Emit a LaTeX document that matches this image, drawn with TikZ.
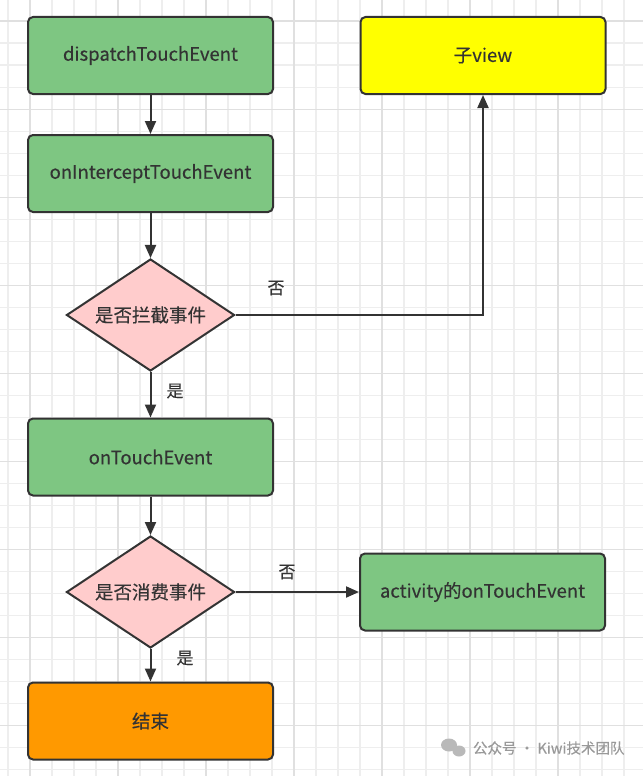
\documentclass[tikz,border=0pt]{standalone}
\usepackage{fontspec}
\setmainfont{Noto Sans CJK SC}[FakeBold=0.3]
\usepackage{tikz}
\usetikzlibrary{arrows.meta, shapes.geometric}
\definecolor{boxgreen}{RGB}{126,198,130}
\definecolor{boxpink}{RGB}{255,204,204}
\definecolor{boxyellow}{RGB}{255,255,0}
\definecolor{boxorange}{RGB}{255,153,0}
\definecolor{edgegray}{RGB}{51,51,51}
\definecolor{textgray}{RGB}{51,51,51}
\definecolor{gridminor}{RGB}{238,238,238}
\definecolor{gridmajor}{RGB}{224,224,224}

\begin{document}
\begin{tikzpicture}[x=1pt, y=-1pt, line width=2pt,
  every node/.style={font=\fontsize{18.5}{22}\selectfont, text=textgray},
  box/.style={rectangle, rounded corners=5pt, draw=edgegray, minimum width=245pt, minimum height=77pt},
  choice/.style={diamond, draw=edgegray, fill=boxpink, minimum width=168pt, minimum height=112pt, inner sep=0pt, aspect=1.5},
  tag/.style={font=\fontsize{17}{20}\selectfont},
  link/.style={draw=edgegray, -{Triangle[length=13pt,width=11pt]}}]
\useasboundingbox (0,0) rectangle (643,776);
\fill[white] (0,0) rectangle (643,776);
% background grid
\foreach \x in {8,30,...,640} \draw[gridminor, line width=1.6pt] (\x,0) -- (\x,776);
\foreach \y in {21.3,43.3,...,776} \draw[gridminor, line width=1.6pt] (0,\y) -- (643,\y);
\foreach \x in {30,118,...,640} \draw[gridmajor, line width=1.6pt] (\x,0) -- (\x,776);
\foreach \y in {21.3,109.3,...,776} \draw[gridmajor, line width=1.6pt] (0,\y) -- (643,\y);

\begin{scope}[every node/.append style={box, fill=boxgreen}]
   \node (A) at (150.5,55.5) {dispatchTouchEvent};
   \node (B) at (150.5,173.5) {onInterceptTouchEvent};
   \node (D) at (150.5,457) {onTouchEvent};
   \node (H) at (482.5,592) {activity的onTouchEvent};
 \end{scope}
 \node[box, fill=boxyellow] (G) at (483,55.5) {子view};
 \node[box, fill=boxorange] (F) at (150.5,721) {结束};
 \node[choice] (C) at (150.5,315) {是否拦截事件};
 \node[choice] (E) at (150.5,592) {是否消费事件};

 \draw[link] (A)--(B);
 \draw[link] (B)--(C);
 \draw[link] (C)--(D);
 \draw[link] (C.east) -| (G.south);
 \draw[link] (D)--(E);
 \draw[link] (E)--(H);
 \draw[link] (E)--(F);

 \node[tag] (no1) at (276,288) {否};
 \node[tag] (yes1) at (175,391) {是};
 \node[tag] (no2) at (287,572) {否};
 \node[tag] (yes2) at (185,658) {是};

 % watermark
 \fill[gray!55] (449,745) ellipse (8 and 6.5);
 \fill[gray!55] (459,751) ellipse (6.5 and 5.5);
 \node[anchor=west, inner sep=0pt, text=gray!80, font=\fontsize{14.5}{17}\selectfont] (mark) at (472,748) {公众号 · Kiwi技术团队};
\end{tikzpicture}
\end{document}
